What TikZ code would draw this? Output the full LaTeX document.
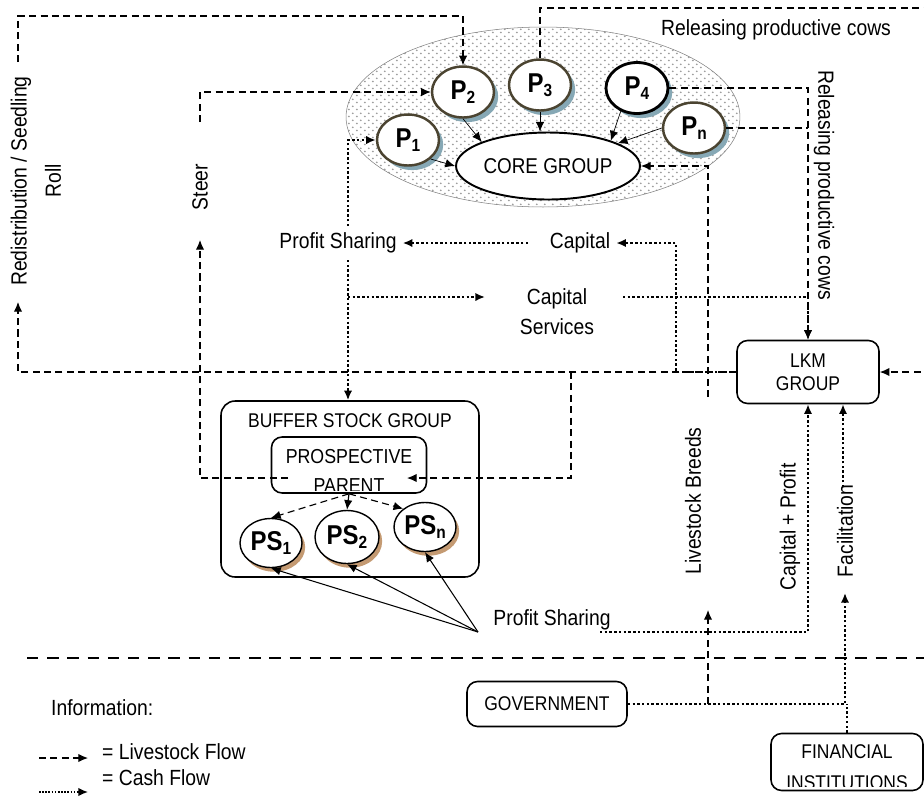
\documentclass[tikz,border=0pt]{standalone}
\usepackage{fontspec}
\setmainfont{Liberation Sans}[FakeStretch=0.88]
\usetikzlibrary{arrows.meta,shapes.geometric,patterns.meta,shadows}

\definecolor{ringbrown}{HTML}{4B4431}
\definecolor{shadeblue}{HTML}{86A8B5}
\definecolor{shadetan}{HTML}{C49A72}

% name with a small lowered index
\newcommand{\pname}[2]{#1{\fontsize{10}{10}\selectfont\raisebox{-0.4ex}{#2}}}

% dots of the core herd
\tikzdeclarepattern{
  name=herddots,
  type=uncolored,
  bounding box={(0pt,0pt) and (4.5pt,4pt)},
  tile size={(4.5pt,4pt)},
  code={
    \tikzset{x=1pt,y=1pt}
    \fill (1.1,1) circle [radius=0.6];
    \fill (3.35,3) circle [radius=0.6];
  }
}

\tikzset{
  livestock/.style={line width=0.65pt, dash pattern=on 4pt off 2.5pt},
  cash/.style={line width=1.5pt, dash pattern=on 1.4pt off 1.3pt},
  pcircle/.style={ellipse, draw=ringbrown, line width=1.4pt, fill=white,
    minimum width=1.24cm, minimum height=1.02cm, inner sep=0pt,
    drop shadow={shadow xshift=2.4pt, shadow yshift=-2.6pt, fill=shadeblue, opacity=1},
    font=\fontsize{15.5}{15.5}\selectfont\bfseries},
  pscircle/.style={ellipse, draw, line width=0.8pt, fill=white,
    minimum width=1.24cm, minimum height=0.98cm, inner sep=0pt,
    drop shadow={shadow xshift=1.8pt, shadow yshift=-2.4pt, fill=shadetan, opacity=1},
    font=\fontsize{15.5}{15.5}\selectfont\bfseries},
  groupbox/.style={draw, rounded corners=6pt, line width=0.9pt, fill=white,
    align=center, inner sep=0pt, font=\fontsize{11.3}{13}\selectfont},
}

\begin{document}
\begin{tikzpicture}[x=0.02cm, y=-0.02cm, >={Latex[length=5.5pt,width=4.8pt]},
  font=\fontsize{12.5}{15}\selectfont]
\useasboundingbox (0,0) rectangle (924,799);

% Core herd
\node[ellipse, draw=gray, line width=0.3pt, minimum width=7.88cm, minimum height=3.6cm,
  preaction={fill=white}, pattern=herddots, pattern color=gray!75] (herd) at (543,117) {};
\node[ellipse, draw, line width=1.1pt, fill=white, minimum width=3.68cm, minimum height=1.34cm,
  inner sep=0pt, font=\fontsize{12.2}{14}\selectfont] (core) at (548,166) {CORE GROUP};
\node[pcircle] (P1) at (408,140) {\pname{P}{1}};
\node[pcircle] (P2) at (463,92) {\pname{P}{2}};
\node[pcircle] (P3) at (540,85) {\pname{P}{3}};
\node[pcircle, draw=black, line width=1.6pt] (P4) at (637,88) {\pname{P}{4}};
\node[pcircle] (Pn) at (694,128) {\pname{P}{n}};
\draw[->] (P1.-40) -- (core.west);
\draw[->] (P2.south) -- (core.160);
\draw[->] (P3.south) -- (P3.south |- core.north);
\draw[->] (P4.-125) -- (core.22);
\draw[->] (Pn.west) -- (core.18);

% Groups
\node[groupbox, minimum width=2.84cm, minimum height=1.26cm] (lkm) at (808,372) {LKM\\GROUP};
\node[groupbox, rounded corners=8pt, minimum width=5.16cm, minimum height=3.52cm] (buffer) at (350,489) {};
\node[font=\fontsize{11.3}{13}\selectfont] (bufftxt) at (350,421) {BUFFER STOCK GROUP};
\node[groupbox, minimum width=3.1cm, minimum height=1.12cm] (parent) at (349,465) {};
\begin{scope}
\clip ([shift={(2,-3)}]parent.south west) rectangle (parent.north east);
\node[align=center, font=\fontsize{11.5}{16.5}\selectfont] (parenttxt) at (349,471) {PROSPECTIVE\\PARENT};
\end{scope}
\node[pscircle] (ps1) at (271,543) {\pname{PS}{1}};
\node[pscircle, minimum width=1.28cm, minimum height=1.06cm] (ps2) at (347,537) {\pname{PS}{2}};
\node[pscircle] (psn) at (425,527) {\pname{PS}{n}};
\draw[livestock,->] (parent.south) -- (ps1.north);
\draw[livestock,->] (parent.south) -- (ps2.north);
\draw[livestock,->] (parent.south) -- (psn.140);
\node[groupbox, minimum width=3.2cm, minimum height=0.9cm] (gov) at (547,704) {GOVERNMENT};
\node[groupbox, minimum width=3.04cm, minimum height=1.14cm] (fin) at (847,762) {};
\begin{scope}
\clip ([shift={(2,-5)}]fin.south west) rectangle (fin.north east);
\node[align=center, font=\fontsize{11.3}{17.5}\selectfont] (fintxt) at (847,767) {FINANCIAL\\INSTITUTIONS};
\end{scope}

% Flow labels
\node (relh) at (776,30) {Releasing productive cows};
\node[rotate=-90] (relv) at (824,185) {Releasing productive cows};
\node[rotate=90] (redist) at (21,181) {Redistribution / Seedling};
\node[rotate=90] (roll) at (53,181) {Roll};
\node[rotate=90] (steer) at (200,187) {Steer};
\node (pshare) at (338,243) {Profit Sharing};
\node (capital) at (580,243) {Capital};
\node[align=center, font=\fontsize{12.5}{17}\selectfont] (capserv) at (557,312) {Capital\\Services};
\node[rotate=90] (breeds) at (693,501) {Livestock Breeds};
\node[rotate=90] (capprof) at (790,527) {Capital + Profit};
\node[rotate=90] (facil) at (845,531) {Facilitation};
\node (psharebot) at (552,620) {Profit Sharing};

% Connector ends
\coordinate (redin) at (18,302);
\coordinate (redout) at (18,62);
\coordinate (tl) at (18,16);
\coordinate (steerin) at (200,240);
\coordinate (steerout) at (200,122);
\coordinate (steerfrom) at (288,478);
\coordinate (branch) at (571,372);
\coordinate (parentin) at (407,478);
\coordinate (ne) at (940,8);
\coordinate (se) at (940,372);
\coordinate (govline) at (708,704);
\coordinate (breedsin) at (708,610);
\coordinate (breedsout) at (708,397);
\coordinate (facin) at (845,593);
\coordinate (facout) at (843,487);
\coordinate (psfrom) at (600,632);
\coordinate (psroot) at (478,632);
\coordinate (psup) at (348,226);
\coordinate (psdown) at (348,260);
\coordinate (csin) at (485,297);
\coordinate (csout) at (623,297);
\coordinate (capfrom) at (528,243);
\coordinate (capin) at (676,243);

% Livestock flow
\draw[livestock,->] (lkm.west) -| (redin);
\draw[livestock,->] (redout) -- (tl) -| (P2.north);
\draw[livestock,->] (steerfrom) -| (steerin);
\draw[livestock,->] (steerout) |- (P2.west);
\draw[livestock,->] (branch) |- (parentin);
\draw[livestock,->] (P3.north) |- (ne) -- (se) -- (lkm.east);
\draw[livestock,->] (P4.east) -| (lkm.north);
\draw[livestock] (Pn.east) -- (Pn.east -| lkm.north);
\draw[livestock,->] (govline) -- (breedsin);
\draw[livestock,->] (breedsout) |- (core.east);

% Cash flow
\draw[cash,->] (psup) |- (P1.west);
\draw[cash,->] (psdown) -- (psdown |- buffer.north);
\draw[cash,->] (psdown |- csin) -- (csin);
\draw[cash,->] (csout) -| (lkm.north);
\draw[cash,->] (capfrom) -- (pshare.east);
\draw[cash,->] (lkm.west) -| (capin) -- (capital.east);
\draw[cash,->] (psfrom) -| (lkm.south);
\draw[cash,->] (gov.east) -| (facin);
\draw[cash] (fin.north) -- (fin.north |- gov.east);
\draw[cash,->] (facout) -- (facout |- lkm.south);
\draw[line width=0.6pt,->] (psroot) -- (ps1.south);
\draw[line width=0.6pt,->] (psroot) -- (ps2.south);
\draw[line width=0.6pt,->] (psroot) -- (psn.south);

% Legend
\draw[line width=0.8pt, dash pattern=on 6.5pt off 5pt] (27,658) -- (940,658);
\node[anchor=west] (info) at (45,708) {Information:};
\coordinate (lga) at (39,758);
\coordinate (lgb) at (88,758);
\coordinate (lgc) at (39,792);
\coordinate (lgd) at (88,792);
\draw[livestock,->] (lga) -- (lgb);
\draw[line width=0.8pt, dash pattern=on 0.9pt off 0.9pt,->] (lgc) -- (lgd);
\node[anchor=west] (lg1) at (96,752) {= Livestock Flow};
\node[anchor=west] (lg2) at (96,778) {= Cash Flow};
\end{tikzpicture}
\end{document}
